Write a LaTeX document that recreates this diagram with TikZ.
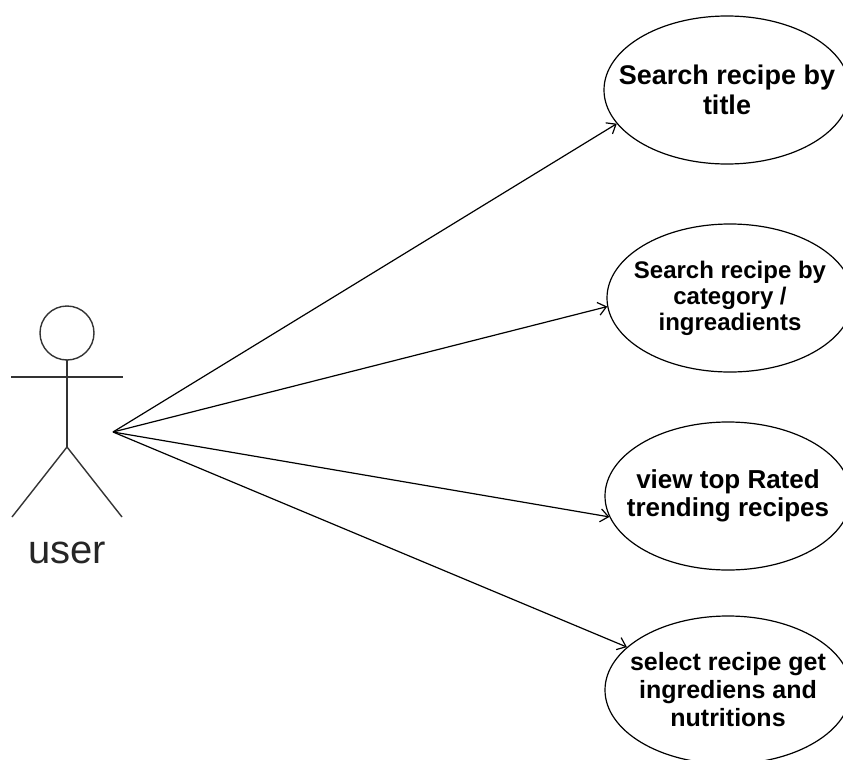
\documentclass[tikz,border=0pt]{standalone}
\usepackage{fontspec}
\setmainfont{Liberation Sans}
\usetikzlibrary{arrows.meta}
\usetikzlibrary{shapes.geometric}

\begin{document}
\begin{tikzpicture}[x=1pt,y=-1pt,line width=1.2pt,>={Straight Barb[length=8pt,width=13pt]}]
    \tikzstyle{every node}=[font=\bfseries\fontsize{26}{28}\selectfont]
    \tikzstyle{usecase}=[ellipse,draw,minimum width=246pt,minimum height=148pt,inner sep=-40pt,align=center]
    \useasboundingbox (0,0) rectangle (843,760);
    \clip (0,0) rectangle (843,760);
    % actor
    \draw[line width=1.4pt,black!80] (67,333) circle (27pt);
    \draw[line width=1.4pt,black!80] (67,360) -- (67,447);
    \draw[line width=1.4pt,black!80] (11,377) -- (123,377);
    \draw[line width=1.4pt,black!80] (12,517) -- (67,447) -- (122,517);
    \node[font=\fontsize{40}{40}\selectfont,text=black!85] (user-label) at (67,553) {user};
    \coordinate (user) at (113,432);
    % use cases
    \node[usecase,font=\bfseries\fontsize{27}{30}\selectfont] (S-title) at (727,90) {Search recipe by\\title};
    \node[usecase,font=\bfseries\fontsize{24}{26}\selectfont] (S-cat) at (730,298) {Search recipe by\\category /\\ingreadients};
    \node[usecase] (top) at (728,496) {view top Rated\\trending recipes};
    \node[usecase,font=\bfseries\fontsize{25}{28}\selectfont] (select) at (728,690) {select recipe get\\ingrediens and\\nutritions};
    \draw[->] (user) to (S-title.197);
    \draw[->] (user) to (S-cat.184);
    \draw[->] (user) to (top.190);
    \draw[->] (user) to (select.157);
\end{tikzpicture}
\end{document}
